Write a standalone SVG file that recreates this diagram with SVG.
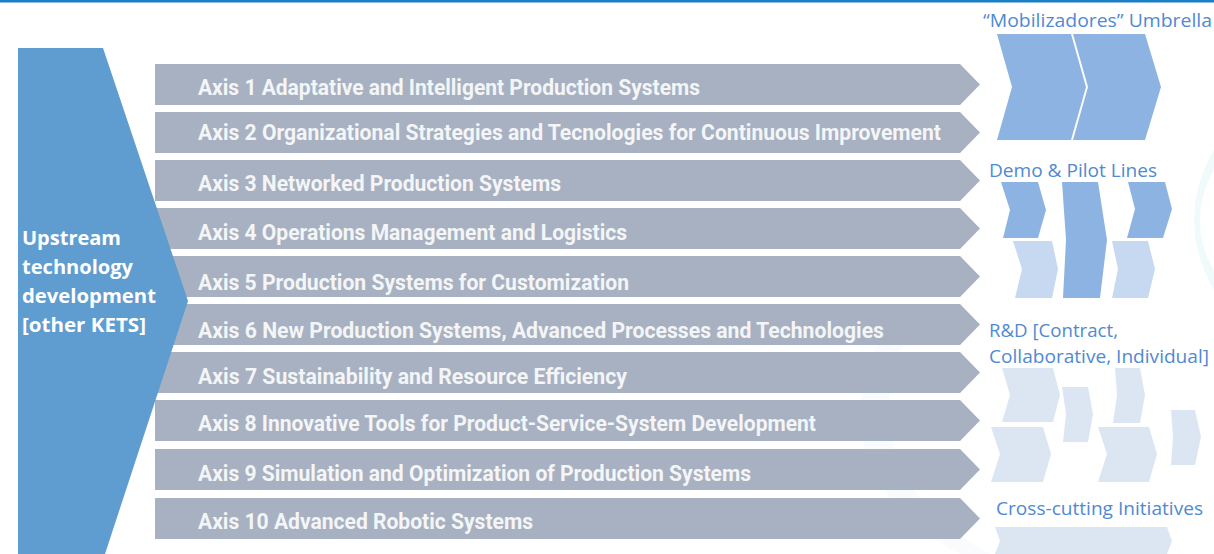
<svg xmlns="http://www.w3.org/2000/svg" width="1214" height="554" viewBox="0 0 1214 554">
<style>
.bar{fill:#a7b1c1}
.bt{font-family:Roboto,"Liberation Sans",sans-serif;font-weight:bold;font-size:22px;fill:#f4f5f7}
.lt{font-family:"Open Sans","Noto Sans",sans-serif;font-weight:bold;font-size:20px;fill:#ffffff}
.rl{font-family:"Open Sans","Noto Sans",sans-serif;font-size:18px;fill:#4f8ad2}
.c1{fill:#8db3e2}
.c2{fill:#c6d9f1}
.c3{fill:#dce6f2}
</style>
<rect x="0" y="0" width="1214" height="554" fill="#ffffff"/>
<rect x="0" y="0" width="1214" height="2.5" fill="#1b7fc4"/>
<g id="background" opacity="0.35">
<path d="M1214,150 C1190,190 1185,240 1214,290 L1214,270 C1195,240 1196,200 1214,170 Z" fill="#d6f0f4"/>
<path d="M880,340 C840,420 860,500 960,554 L990,554 C890,500 870,420 905,340 Z" fill="#eef4f8"/>
</g>
<g id="connectors"></g>
<g id="axes">
<g id="axis1"><polygon class="bar" points="155,64 960,64 980,84.5 960,105 155,105"/><text class="bt" x="198" y="95" textLength="502" lengthAdjust="spacingAndGlyphs">Axis 1 Adaptative and Intelligent Production Systems</text></g>
<g id="axis2"><polygon class="bar" points="155,112 960,112 980,132.5 960,153 155,153"/><text class="bt" x="198" y="140" textLength="743" lengthAdjust="spacingAndGlyphs">Axis 2 Organizational Strategies and Tecnologies for Continuous Improvement</text></g>
<g id="axis3"><polygon class="bar" points="155,160 960,160 980,180.5 960,201 155,201"/><text class="bt" x="198" y="191" textLength="363" lengthAdjust="spacingAndGlyphs">Axis 3 Networked Production Systems</text></g>
<g id="axis4"><polygon class="bar" points="155,208 960,208 980,228.5 960,249 155,249"/><text class="bt" x="198" y="240" textLength="429" lengthAdjust="spacingAndGlyphs">Axis 4 Operations Management and Logistics</text></g>
<g id="axis5"><polygon class="bar" points="155,256 960,256 980,276.5 960,297 155,297"/><text class="bt" x="198" y="290" textLength="431" lengthAdjust="spacingAndGlyphs">Axis 5 Production Systems for Customization</text></g>
<g id="axis6"><polygon class="bar" points="155,304 960,304 980,324.5 960,345 155,345"/><text class="bt" x="198" y="338" textLength="686" lengthAdjust="spacingAndGlyphs">Axis 6 New Production Systems, Advanced Processes and Technologies</text></g>
<g id="axis7"><polygon class="bar" points="155,352 960,352 980,372.5 960,393 155,393"/><text class="bt" x="198" y="384" textLength="429" lengthAdjust="spacingAndGlyphs">Axis 7 Sustainability and Resource Efficiency</text></g>
<g id="axis8"><polygon class="bar" points="155,400 960,400 980,420.5 960,441 155,441"/><text class="bt" x="198" y="431" textLength="618" lengthAdjust="spacingAndGlyphs">Axis 8 Innovative Tools for Product-Service-System Development</text></g>
<g id="axis9"><polygon class="bar" points="155,449 960,449 980,469.5 960,490 155,490"/><text class="bt" x="198" y="481" textLength="553" lengthAdjust="spacingAndGlyphs">Axis 9 Simulation and Optimization of Production Systems</text></g>
<g id="axis10"><polygon class="bar" points="155,498 960,498 980,518.5 960,539 155,539"/><text class="bt" x="198" y="529" textLength="335" lengthAdjust="spacingAndGlyphs">Axis 10 Advanced Robotic Systems</text></g>
</g>
<g id="upstream">
<polygon points="18,48 103,48 188,301 105,554 18,554" fill="#5f9ccf"/>
<text class="lt" x="22" y="245" textLength="99" lengthAdjust="spacingAndGlyphs">Upstream</text>
<text class="lt" x="22" y="274" textLength="111" lengthAdjust="spacingAndGlyphs">technology</text>
<text class="lt" x="22" y="303" textLength="134" lengthAdjust="spacingAndGlyphs">development</text>
<text class="lt" x="22" y="332" textLength="124" lengthAdjust="spacingAndGlyphs">[other KETS]</text>
</g>
<g id="umbrella">
<text class="rl" x="983" y="27" textLength="229" lengthAdjust="spacingAndGlyphs">“Mobilizadores” Umbrella</text>
<polygon class="c1" points="997,34 1071,34 1086,87 1071,140 997,140 1012,87"/>
<polygon class="c1" points="1073,34 1145,34 1161,87 1145,140 1073,140 1088,87"/>
</g>
<g id="demo">
<text class="rl" x="989" y="177" textLength="168" lengthAdjust="spacingAndGlyphs">Demo &amp; Pilot Lines</text>
<polygon class="c1" points="1001,182 1038,182 1046,210 1038,238 1003,238 1010,210"/>
<polygon class="c1" points="1062,182 1098,182 1107,240 1100,298 1063,298 1066,240"/>
<polygon class="c1" points="1128,182 1165,182 1172,209 1163,238 1127,238 1135,209"/>
<polygon class="c2" points="1013,241 1052,241 1058,269 1052,298 1015,298 1022,269"/>
<polygon class="c2" points="1112,241 1148,241 1155,269 1148,298 1112,298 1118,269"/>
</g>
<g id="rd">
<text class="rl" x="989" y="337" textLength="129" lengthAdjust="spacingAndGlyphs">R&amp;D [Contract,</text>
<text class="rl" x="989" y="363" textLength="220" lengthAdjust="spacingAndGlyphs">Collaborative, Individual]</text>
<polygon class="c3" points="1002,368 1053,368 1060,395 1053,422 1002,422 1010,395"/>
<polygon class="c3" points="1062,387 1088,387 1093,414 1088,442 1063,442 1066,414"/>
<polygon class="c3" points="1115,368 1140,368 1145,395 1140,423 1113,423 1117,395"/>
<polygon class="c3" points="991,427 1043,427 1051,454 1043,482 991,482 1000,454"/>
<polygon class="c3" points="1098,427 1149,427 1157,454 1149,482 1098,482 1107,454"/>
<polygon class="c3" points="1171,410 1195,410 1201,437 1195,465 1171,465 1173,437"/>
</g>
<g id="crosscutting">
<text class="rl" x="996" y="515" textLength="207" lengthAdjust="spacingAndGlyphs">Cross-cutting Initiatives</text>
<polygon class="c3" points="995,527 1167,527 1172,541 1167,554 995,554 1000,541"/>
</g>
</svg>
